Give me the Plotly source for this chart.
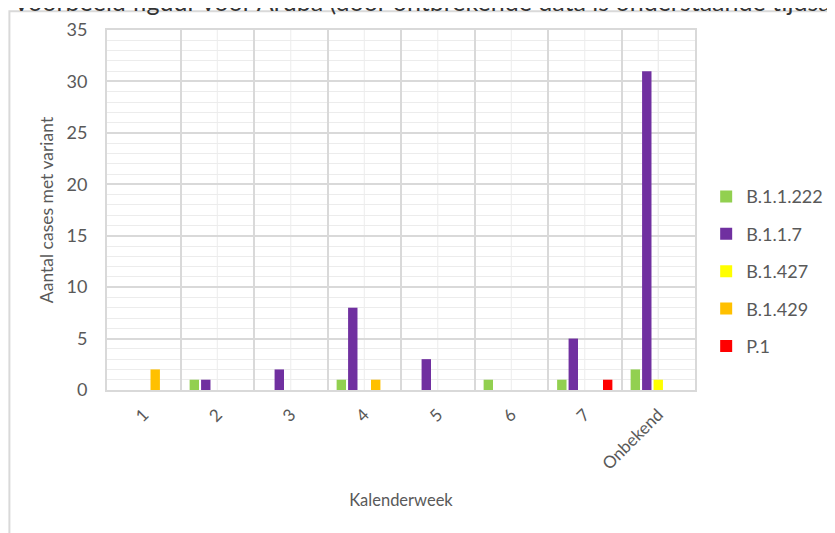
import plotly.graph_objects as go

weeks = ["1", "2", "3", "4", "5", "6", "7", "Onbekend"]
variants = ["B.1.1.222", "B.1.1.7", "B.1.427", "B.1.429", "P.1"]
b_1_1_222 = [0, 1, 0, 1, 0, 1, 1, 2]
b_1_1_7 = [0, 1, 2, 8, 3, 0, 5, 31]
b_1_427 = [0, 0, 0, 0, 0, 0, 0, 1]
b_1_429 = [2, 0, 0, 1, 0, 0, 0, 0]
p_1 = [0, 0, 0, 0, 0, 0, 1, 0]
series = [b_1_1_222, b_1_1_7, b_1_427, b_1_429, p_1]
colors = ["#92d050", "#7030a0", "#ffff00", "#ffc000", "#ff0000"]

FONT = "Lato"
TXT = "#595959"

fig = go.Figure()
for name, vals, col in zip(variants, series, colors):
    fig.add_trace(go.Bar(x=weeks, y=vals, name=name, marker_color=col,
                         marker_line_width=0, legendgroup=name))

# minor vertical gridlines at category centres
shapes = []
for w in weeks:
    shapes.append(dict(type="line", xref="x", yref="paper", x0=w, x1=w, y0=0, y1=1,
                       line=dict(color="#ececec", width=1), layer="below"))
# outer frame (top and left edges visible)
shapes.append(dict(type="rect", xref="paper", yref="paper", x0=-0.166, x1=1.6,
                   y0=-0.6, y1=1.052, line=dict(color="#d9d9d9", width=2), layer="below"))

fig.update_layout(
    width=827, height=525,
    margin=dict(l=99, r=140, t=22, b=143, autoexpand=False),
    paper_bgcolor="white", plot_bgcolor="white",
    font=dict(family=FONT, size=14, color=TXT),
    barmode="group", bargap=0.22, bargroupgap=0.18,
    shapes=shapes,
    showlegend=True,
    legend=dict(x=1.019, y=0.33, xanchor="left", yanchor="middle",
                font=dict(size=18, color=TXT), tracegroupgap=11,
                bgcolor="rgba(0,0,0,0)"),
    annotations=[dict(text="Voorbeeld figuur voor Aruba (door ontbrekende data is onderstaande tijdsas niet volledig)",
                      xref="paper", yref="paper", x=-0.163, y=1.032, xanchor="left", yanchor="bottom",
                      showarrow=False, font=dict(family=FONT, size=25, color="#333333"))],
)
fig.update_xaxes(
    type="category", tickson="boundaries", showgrid=True, gridcolor="#d9d9d9", gridwidth=1.5,
    showline=True, linecolor="#d9d9d9", linewidth=2, mirror=True,
    ticks="", tickangle=-45, tickfont=dict(size=17, color=TXT), ticklabelstandoff=6,
    title=dict(text="Kalenderweek", font=dict(size=16.5, color=TXT), standoff=22),
)
fig.update_yaxes(
    range=[0, 35], dtick=5, showgrid=True, gridcolor="#d9d9d9", gridwidth=1.5,
    minor=dict(dtick=1, showgrid=True, gridcolor="#ececec", gridwidth=1),
    showline=True, linecolor="#d9d9d9", linewidth=2, mirror=True, zeroline=False,
    ticks="", ticklen=0, tickfont=dict(size=18, color=TXT), ticklabelstandoff=14,
    title=dict(text="Aantal cases met variant", font=dict(size=17.5, color=TXT), standoff=8),
)

fig.write_html("out.html")
